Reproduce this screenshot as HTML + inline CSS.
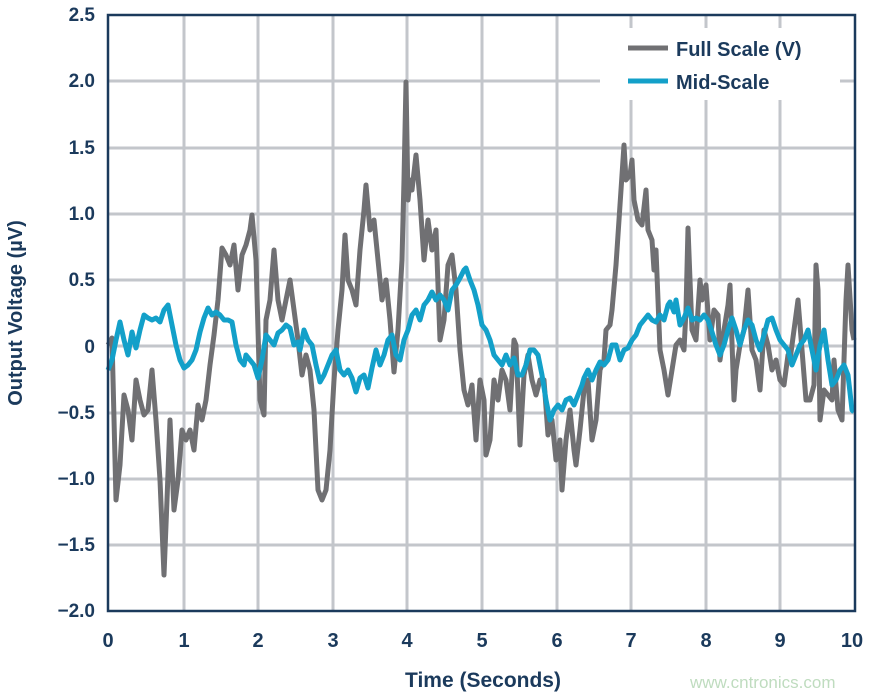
<!DOCTYPE html>
<html><head><style>
html,body{margin:0;padding:0;background:#fff;}
svg{display:block;}
text{font-family:"Liberation Sans",sans-serif;font-weight:bold;fill:#1b3a5c;}
</style></head><body>
<svg width="872" height="697" viewBox="0 0 872 697">
<g stroke="#c3c6cb" stroke-width="3">
<line x1="184" y1="15" x2="184" y2="611"/><line x1="258" y1="15" x2="258" y2="611"/><line x1="333" y1="15" x2="333" y2="611"/><line x1="407" y1="15" x2="407" y2="611"/><line x1="482" y1="15" x2="482" y2="611"/><line x1="557" y1="15" x2="557" y2="611"/><line x1="631" y1="15" x2="631" y2="611"/><line x1="706" y1="15" x2="706" y2="611"/><line x1="780" y1="15" x2="780" y2="611"/>
<line x1="108" y1="81" x2="855" y2="81"/><line x1="108" y1="148" x2="855" y2="148"/><line x1="108" y1="214" x2="855" y2="214"/><line x1="108" y1="280" x2="855" y2="280"/><line x1="108" y1="346" x2="855" y2="346"/><line x1="108" y1="413" x2="855" y2="413"/><line x1="108" y1="479" x2="855" y2="479"/><line x1="108" y1="545" x2="855" y2="545"/>
</g>
<rect x="600" y="28" width="240" height="72" fill="#fff"/>
<polyline fill="none" stroke="#707073" stroke-width="5" stroke-linejoin="round" points="108,345 112,338 116,500 120,465 124,395 128,410 132,440 136,380 140,400 144,415 148,410 152,370 156,420 160,480 164,575 167,500 170,420 174,510 178,480 182,430 186,440 190,430 194,450 198,405 202,420 206,400 210,365 214,335 218,300 222,248 226,255 230,265 234,245 238,290 242,255 246,245 250,230 252,215 256,260 260,400 264,415 266,320 270,300 274,250 278,300 282,320 286,300 290,280 294,310 298,340 302,375 306,355 310,370 314,410 318,490 322,500 326,490 330,450 334,380 338,330 342,290 345,235 348,280 352,290 356,305 360,250 364,210 366,185 370,230 374,220 378,260 382,300 386,280 390,320 394,372 398,330 402,260 404,180 406,82 408,200 410,180 412,190 416,155 420,200 424,260 428,220 432,250 436,230 440,340 444,320 448,265 452,255 456,290 460,350 464,390 468,405 472,385 476,440 480,380 484,400 486,455 490,440 494,380 498,400 502,370 506,380 510,410 514,340 516,345 520,445 524,375 528,355 532,380 536,395 540,380 544,380 548,435 552,420 556,460 560,440 562,490 566,440 570,410 574,450 576,465 580,430 584,390 588,380 592,440 596,420 600,370 604,360 606,330 610,325 612,310 616,265 620,205 624,145 626,180 630,175 632,160 634,200 638,220 642,225 646,190 648,230 652,240 654,270 656,250 660,350 664,370 668,395 672,370 676,345 680,340 684,350 686,310 688,228 690,280 692,330 696,340 700,280 702,300 706,285 710,340 714,310 718,315 720,360 724,330 728,305 730,285 734,400 736,370 740,345 744,330 748,290 752,350 756,360 760,390 764,330 768,345 772,370 776,360 780,380 784,385 788,355 790,360 794,330 798,300 802,350 806,400 810,400 814,385 816,265 818,290 820,420 824,390 828,395 832,400 834,360 838,410 842,420 846,300 848,265 852,330 854,340"/>
<polyline fill="none" stroke="#13a0c9" stroke-width="5" stroke-linejoin="round" points="108,370 112,360 116,340 120,322 124,340 128,355 132,332 136,348 140,330 144,315 148,318 152,320 156,318 160,322 164,310 168,305 172,325 176,345 180,360 184,368 188,365 192,360 196,350 200,332 204,318 208,308 212,315 216,312 220,315 224,320 228,320 232,322 236,345 240,360 244,365 246,355 250,360 254,365 258,378 262,360 266,335 270,340 274,345 278,333 282,330 286,325 290,328 294,345 298,342 300,350 304,330 308,340 312,345 316,365 320,382 324,375 328,365 332,355 336,350 340,370 344,375 348,370 352,378 356,392 360,378 364,375 368,388 372,368 376,350 380,365 384,355 388,340 392,335 396,355 400,360 404,340 408,330 412,315 416,310 420,320 424,305 428,300 432,292 436,300 440,295 444,300 448,310 452,290 456,285 460,278 464,270 466,268 470,280 474,290 478,305 482,325 486,330 490,340 494,355 498,360 502,365 506,355 510,365 514,358 518,375 522,375 526,365 530,350 534,350 538,355 542,375 546,400 550,420 554,410 558,405 562,410 566,400 570,398 574,405 578,395 582,385 584,378 588,370 592,380 596,370 600,362 604,365 608,360 612,345 616,345 620,360 624,350 628,348 632,340 636,335 640,325 644,320 648,315 652,320 656,322 660,315 664,320 668,305 670,302 674,312 676,300 680,325 684,318 688,308 692,320 696,318 700,320 704,315 708,320 712,332 716,345 720,355 724,345 728,330 732,318 736,330 740,345 744,330 748,320 752,325 756,340 760,350 764,335 768,320 772,318 776,330 780,340 784,345 788,350 792,365 796,355 800,345 804,340 808,330 812,350 816,370 820,345 824,330 828,360 832,385 836,380 840,370 844,365 848,375 852,410 854,412"/>
<rect x="108" y="15" width="747" height="596" fill="none" stroke="#1b3a5c" stroke-width="2.5"/>
<line x1="628" y1="48" x2="668" y2="48" stroke="#707073" stroke-width="5"/>
<line x1="628" y1="81" x2="668" y2="81" stroke="#13a0c9" stroke-width="5"/>
<text x="676" y="56" font-size="20">Full Scale (V)</text>
<text x="676" y="89" font-size="20">Mid-Scale</text>
<g font-size="19" text-anchor="end">
<text x="95" y="21">2.5</text><text x="95" y="87">2.0</text><text x="95" y="154">1.5</text><text x="95" y="220">1.0</text><text x="95" y="286">0.5</text><text x="95" y="353">0</text><text x="95" y="419">−0.5</text><text x="95" y="485">−1.0</text><text x="95" y="551">−1.5</text><text x="95" y="617">−2.0</text>
</g>
<g font-size="20" text-anchor="middle">
<text x="108" y="647">0</text><text x="184" y="647">1</text><text x="258" y="647">2</text><text x="333" y="647">3</text><text x="407" y="647">4</text><text x="482" y="647">5</text><text x="557" y="647">6</text><text x="631" y="647">7</text><text x="706" y="647">8</text><text x="780" y="647">9</text><text x="852" y="647">10</text>
</g>
<text x="483" y="687" font-size="21" text-anchor="middle">Time (Seconds)</text>
<text transform="translate(22,313) rotate(-90)" font-size="20" text-anchor="middle">Output Voltage (µV)</text>
<text x="690" y="688" font-size="17" style="font-weight:normal;fill:#bfdcbf">www.cntronics.com</text>
</svg>
</body></html>
